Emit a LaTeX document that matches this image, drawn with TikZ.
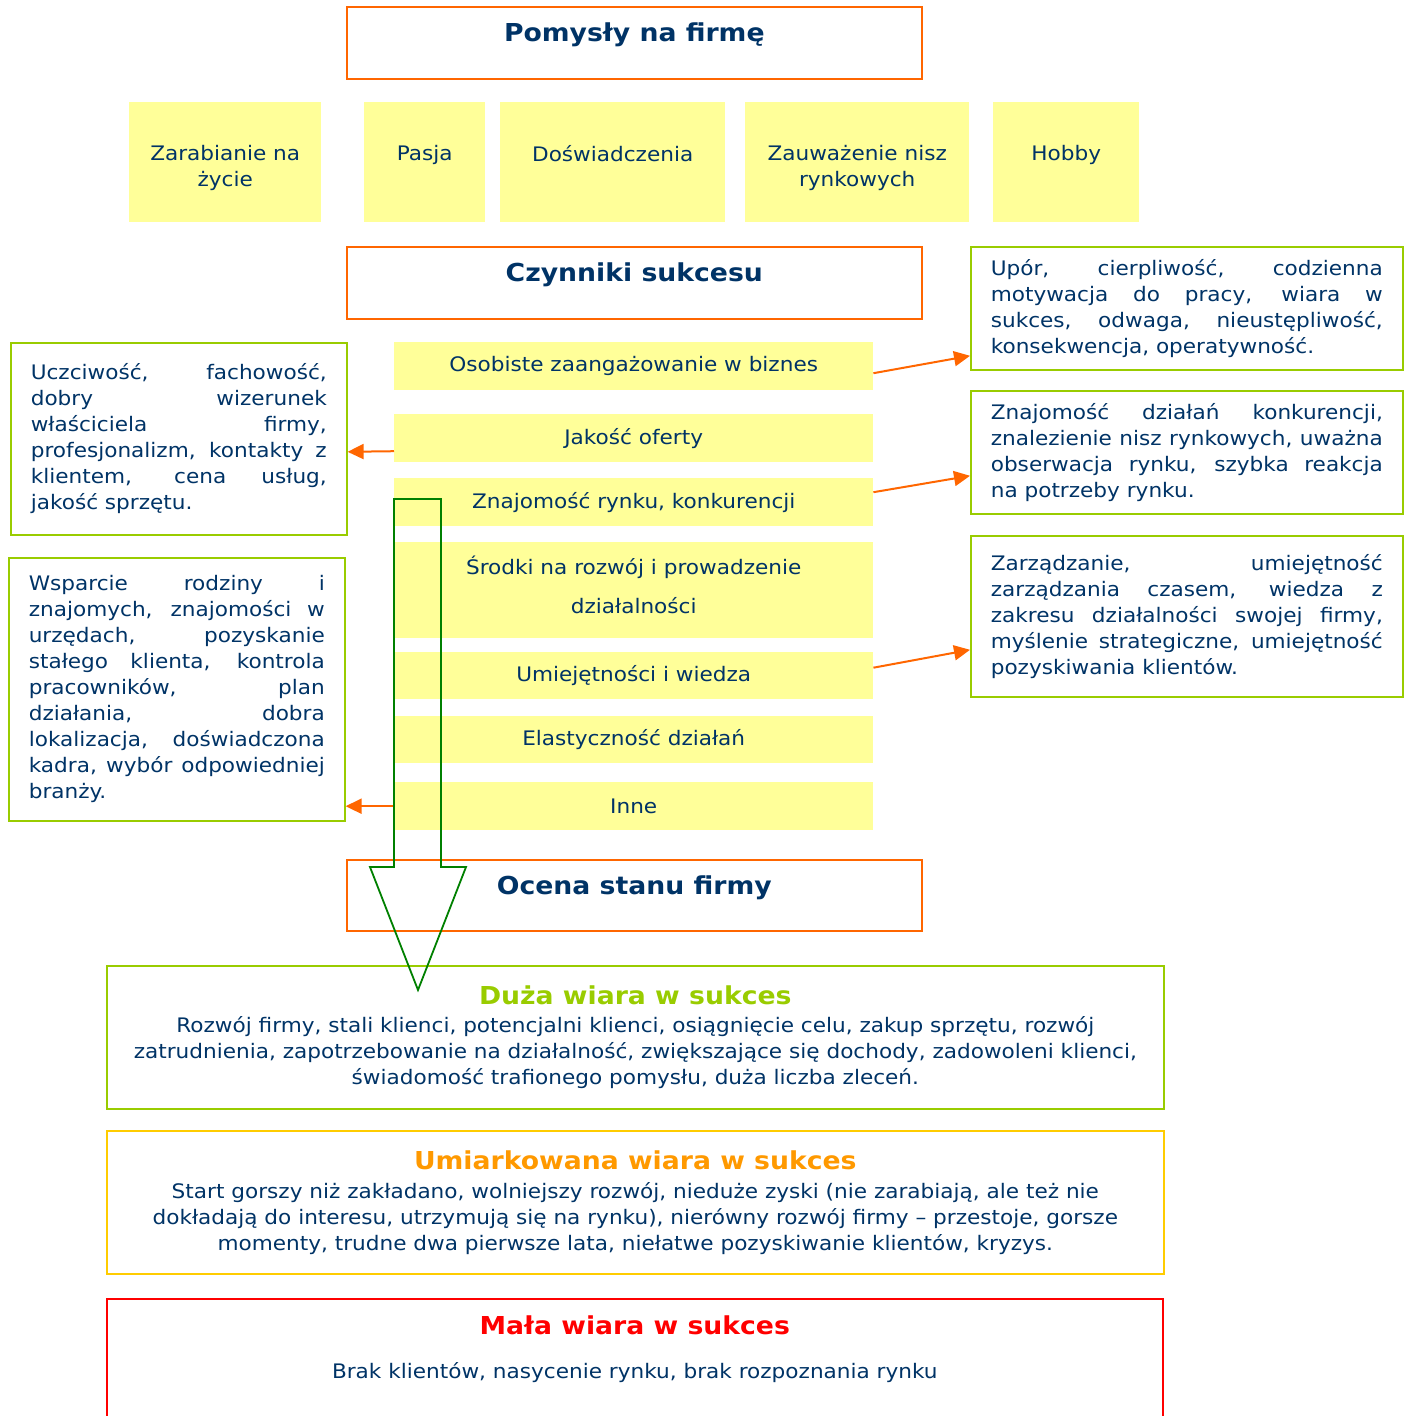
\documentclass[tikz,border=0pt]{standalone}
\usepackage{fontspec}
\setmainfont[FakeStretch=1.08]{DejaVu Sans}
\usetikzlibrary{arrows.meta,positioning}
\definecolor{navy}{HTML}{003366}
\definecolor{orangeline}{HTML}{FF6600}
\definecolor{pale}{HTML}{FFFF99}
\definecolor{lime}{HTML}{99CC00}
\definecolor{gold}{HTML}{FFCC00}
\definecolor{amber}{HTML}{FF9900}
\definecolor{arrowgreen}{HTML}{008000}
\hyphenpenalty=10000
\tolerance=10000
\newcommand{\bodyfont}{\fontsize{20}{26}\selectfont}
\newcommand{\headfont}{\fontsize{24.7}{30}\selectfont\bfseries}
\tikzset{
  headbox/.style={draw=orangeline, line width=1.6pt, minimum width=575pt,
    minimum height=72pt, anchor=north west, inner sep=0pt},
  headtext/.style={font=\headfont, text=navy, yshift=8pt},
  idea/.style={fill=pale, anchor=north west, minimum height=120pt, inner sep=0pt},
  idealabel/.style={anchor=north, yshift=-43pt, inner sep=0pt, align=center,
    text=navy, font=\bodyfont},
  factor/.style={fill=pale, anchor=north west, minimum width=479pt,
    minimum height=48pt, inner sep=0pt, text=navy, font=\bodyfont, align=center},
  note/.style={draw=lime, line width=1.6pt, anchor=north west, inner xsep=20pt,
    inner ysep=0pt, text=navy, align=justify, font=\bodyfont},
  verdict/.style={line width=1.6pt, anchor=north west, minimum width=1057pt,
    minimum height=143pt, inner sep=0pt, align=center, text=navy, font=\bodyfont},
  link/.style={draw=orangeline, line width=2pt, -{Triangle[length=16pt,width=15pt]}},
  bigarrow/.style={draw=arrowgreen, line width=1.8pt},
}
\begin{document}
\begin{tikzpicture}[x=1pt,y=-1pt]
\useasboundingbox (0,0) rectangle (1404,1416);
% pomysly
\node[headbox, label={[headtext]center:Pomysły na firmę}] (pomysly) at (346,6) {};
\node[idea, minimum width=192pt, label={[idealabel]north:Zarabianie na\\życie}] (zarabianie) at (129,102) {};
\node[idea, minimum width=121pt, label={[idealabel]north:Pasja}] (pasja) at (364,102) {};
\node[idea, minimum width=225pt, label={[idealabel]north:Doświadczenia}] (doswiadczenia) at (500,102) {};
\node[idea, minimum width=224pt, label={[idealabel]north:Zauważenie nisz\\rynkowych}] (nisze) at (745,102) {};
\node[idea, minimum width=146pt, label={[idealabel]north:Hobby}] (hobby) at (993,102) {};
% czynniki sukcesu
\node[headbox, label={[headtext]center:Czynniki sukcesu}] (czynniki) at (346,246) {};
\node[factor] (osobiste) at (394,342) {Osobiste zaangażowanie w biznes};
\node[factor] (jakosc) at (394,414) {Jakość oferty};
\node[factor] (rynek) at (394,478) {Znajomość rynku, konkurencji};
\node[factor, minimum height=96pt, font=\fontsize{20}{39}\selectfont, text depth=10pt] (srodki) at (394,542) {Środki na rozwój i prowadzenie\\działalności};
\node[factor, minimum height=47pt] (umiejetnosci) at (394,652) {Umiejętności i wiedza};
\node[factor, minimum height=47pt] (elastycznosc) at (394,716) {Elastyczność działań};
\node[factor] (inne) at (394,782) {Inne};
% opisy
\node[note, text width=296pt, minimum height=192pt] (uczciwosc) at (10,342)
  {Uczciwość, fachowość,\linebreak dobry wizerunek\linebreak właściciela firmy,\linebreak
   profesjonalizm, kontakty z\linebreak klientem, cena usług,\linebreak jakość sprzętu.};
\node[note, text width=296pt, minimum height=263pt] (wsparcie) at (8,557)
  {Wsparcie rodziny i\linebreak znajomych, znajomości w\linebreak urzędach, pozyskanie\linebreak
   stałego klienta, kontrola\linebreak pracowników, plan\linebreak działania, dobra\linebreak
   lokalizacja, doświadczona\linebreak kadra, wybór odpowiedniej\linebreak branży.};
\node[note, text width=392pt, minimum height=123pt] (upor) at (970,246)
  {Upór, cierpliwość, codzienna\linebreak motywacja do pracy, wiara w\linebreak
   sukces, odwaga, nieustępliwość,\linebreak konsekwencja, operatywność.};
\node[note, text width=392pt, minimum height=123pt] (konkurencja) at (970,390)
  {Znajomość działań konkurencji,\linebreak znalezienie nisz rynkowych, uważna\linebreak
   obserwacja rynku, szybka reakcja\linebreak na potrzeby rynku.};
\node[note, text width=392pt, minimum height=161pt] (zarzadzanie) at (970,535)
  {Zarządzanie, umiejętność\linebreak zarządzania czasem, wiedza z\linebreak
   zakresu działalności swojej firmy,\linebreak myślenie strategiczne, umiejętność\linebreak
   pozyskiwania klientów.};
\draw[link] ([yshift=-7pt]osobiste.east) -- ([yshift=-47.5pt]upor.west);
\draw[link] ([yshift=-13pt]jakosc.west) -- ([yshift=-13pt]uczciwosc.east);
\draw[link] ([yshift=10pt]rynek.east) -- ([yshift=-23.5pt]konkurencja.west);
\draw[link] ([yshift=8pt]umiejetnosci.east) -- ([yshift=-33.5pt]zarzadzanie.west);
\draw[link] (inne.west) -- (inne.west -| wsparcie.east);
% ocena
\node[headbox, minimum height=71pt, label={[headtext]center:Ocena stanu firmy}] (ocena) at (346,859) {};
\node[verdict, draw=lime] (duza) at (106,965)
  {{\headfont\color{lime}Duża wiara w sukces}\\[2pt]
   Rozwój firmy, stali klienci, potencjalni klienci, osiągnięcie celu, zakup sprzętu, rozwój\\
   zatrudnienia, zapotrzebowanie na działalność, zwiększające się dochody, zadowoleni klienci,\\
   świadomość trafionego pomysłu, duża liczba zleceń.};
\node[verdict, draw=gold] (umiarkowana) at (106,1130)
  {{\headfont\color{amber}Umiarkowana wiara w sukces}\\[3pt]
   Start gorszy niż zakładano, wolniejszy rozwój, nieduże zyski (nie zarabiają, ale też nie\\
   dokładają do interesu, utrzymują się na rynku), nierówny rozwój firmy – przestoje, gorsze\\
   momenty, trudne dwa pierwsze lata, niełatwe pozyskiwanie klientów, kryzys.};
\node[verdict, draw=red, minimum width=1056pt, minimum height=140pt,
  label={[anchor=north, yshift=-14pt, align=center, text=navy, font=\bodyfont]north:{\headfont\color{red}Mała wiara w sukces}\\[18pt]Brak klientów, nasycenie rynku, brak rozpoznania rynku}] (mala) at (106,1298) {};
% strzalka
\draw[bigarrow] (394,499) -- (394,867) -- (370,867) -- (418,990) -- (466,867)
  -- (441,867) -- (441,499) -- cycle;
\end{tikzpicture}
\end{document}
